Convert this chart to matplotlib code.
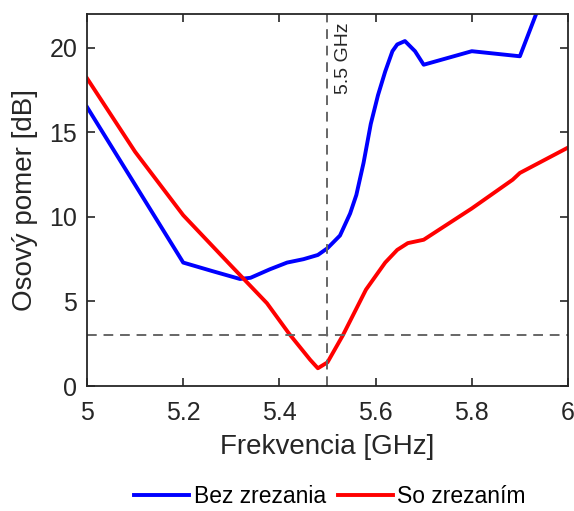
import matplotlib.pyplot as plt
import numpy as np

plt.rcParams['font.family'] = ['Liberation Sans', 'DejaVu Sans']

# Bez zrezania
f_bez = [5.0, 5.1, 5.2, 5.26, 5.318, 5.34, 5.38, 5.416, 5.45, 5.48, 5.5, 5.526,
         5.547, 5.56, 5.575, 5.59, 5.605, 5.62, 5.635, 5.645, 5.661, 5.682, 5.70,
         5.80, 5.90, 5.95, 6.0]
ar_bez = [16.5, 11.9, 7.3, 6.8, 6.33, 6.4, 6.9, 7.3, 7.5, 7.75, 8.15, 8.9,
          10.2, 11.3, 13.2, 15.5, 17.2, 18.6, 19.8, 20.2, 20.4, 19.8, 19.0,
          19.8, 19.5, 23.2, 26.0]

# So zrezaním
f_so = [5.0, 5.1, 5.2, 5.3, 5.374, 5.42, 5.464, 5.48, 5.5, 5.532, 5.58,
        5.62, 5.645, 5.667, 5.70, 5.80, 5.885, 5.9, 6.0]
ar_so = [18.2, 13.85, 10.1, 7.1, 4.9, 3.1, 1.55, 1.05, 1.4, 3.0, 5.7,
         7.3, 8.05, 8.45, 8.65, 10.5, 12.2, 12.6, 14.1]

fig = plt.figure(figsize=(5.74, 5.11), dpi=100)
ax = fig.add_axes([0.1516, 0.2446, 0.8379, 0.728])

ax.plot(f_bez, ar_bez, color='#0000ff', lw=2.8, label='Bez zrezania')
ax.plot(f_so, ar_so, color='#ff0000', lw=2.8, label='So zrezaním')
ax.axvline(5.5, color='#666666', ls=(0, (5, 3.5)), lw=1.4)
ax.axhline(3, color='#666666', ls=(0, (5, 3.5)), lw=1.4)
ax.text(5.515, 21.5, '5.5 GHz', rotation=90, ha='left', va='top',
        fontsize=14, color='#262626')

ax.set_xlim(5, 6)
ax.set_ylim(0, 22)
ax.set_xticks([5, 5.2, 5.4, 5.6, 5.8, 6])
ax.set_xticklabels(['5', '5.2', '5.4', '5.6', '5.8', '6'])
ax.set_yticks([0, 5, 10, 15, 20])
ax.tick_params(direction='in', top=True, right=True, labelsize=18,
               colors='#262626', length=6, width=1.2, pad=7)
ax.tick_params(axis='x', pad=11)
for s in ax.spines.values():
    s.set_color('#262626')
    s.set_linewidth(1.3)

ax.set_xlabel('Frekvencia [GHz]', fontsize=20, color='#262626', labelpad=6)
ax.set_ylabel('Osový pomer [dB]', fontsize=20, color='#262626', labelpad=8)

fig.legend(loc='lower center', bbox_to_anchor=(0.575, -0.035), ncol=2,
           frameon=False, fontsize=16.5, handlelength=2.4, columnspacing=0.5,
           handletextpad=0.2)

fig.savefig('out.png', dpi=100)
